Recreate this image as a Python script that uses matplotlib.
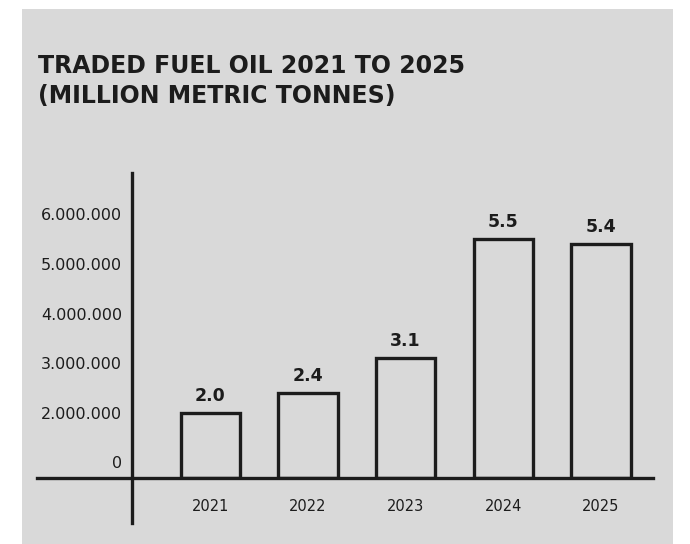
import matplotlib
matplotlib.use("Agg")
import matplotlib.pyplot as plt
from matplotlib.patches import Rectangle

years = ["2021", "2022", "2023", "2024", "2025"]
traded = [2.0, 2.4, 3.1, 5.5, 5.4]  # million metric tonnes
tick_values = [2, 3, 4, 5, 6]
tick_labels = ["2.000.000", "3.000.000", "4.000.000", "5.000.000", "6.000.000"]
title = "TRADED FUEL OIL 2021 TO 2025\n(MILLION METRIC TONNES)"

bg = "#d9d9d9"
ink = "#1c1c1c"
W, H = 690, 544

fig = plt.figure(figsize=(W / 100, H / 100), dpi=100)
fig.patch.set_facecolor("white")
# grey panel behind everything
fig.patches.append(Rectangle((22 / W, 0), (673 - 22) / W, 1 - 9 / H,
                             transform=fig.transFigure, facecolor=bg,
                             edgecolor="none", zorder=-5))

# axes box in pixels: left 132, right 653, bottom at the baseline 478, top 175
ax = fig.add_axes([132 / W, 1 - 478 / H, (653 - 132) / W, (478 - 175) / H])
ax.set_facecolor("none")
ax.set_zorder(2)

base = 0.69
ax.set_ylim(base, 6.79)
ax.set_xlim(-0.804, 4.534)

x = range(len(years))
ax.bar(x, [v - base for v in traded], bottom=base, width=0.61,
       facecolor=bg, edgecolor=ink, linewidth=2.4, zorder=3)

for i, v in enumerate(traded):
    ax.annotate(f"{v:.1f}", xy=(i, v), xytext=(0, 8), textcoords="offset pixels",
                ha="center", va="bottom", fontsize=12.5, fontweight="bold",
                color=ink)

for s in ["top", "right", "bottom", "left"]:
    ax.spines[s].set_visible(False)

# baseline runs out to the left of the y axis, the y axis runs below the baseline
ax.axhline(base, xmin=-(132 - 37) / (653 - 132), xmax=1, color=ink,
           linewidth=2.4, clip_on=False, zorder=4)
ax.axvline(-0.804, ymin=-(523 - 478) / (478 - 175), ymax=1.0065, color=ink,
           linewidth=2.4, clip_on=False, zorder=4)

ax.set_yticks(tick_values)
ax.set_yticklabels(tick_labels)
ax.set_xticks(list(x))
ax.set_xticklabels(years)
ax.tick_params(axis="y", length=0, pad=7, labelsize=11.5, labelcolor=ink)
ax.tick_params(axis="x", length=0, pad=15, labelsize=10.5, labelcolor=ink)

ax.annotate("0", xy=(0, base), xycoords=("axes fraction", "data"),
            xytext=(-10, 14), textcoords="offset pixels", ha="right",
            va="center", fontsize=11.5, color=ink)

fig.text(38 / W, 1 - 54 / H, title, ha="left", va="top", fontsize=17,
         fontweight="bold", color=ink, linespacing=1.3)

fig.savefig("out.png", dpi=100)
